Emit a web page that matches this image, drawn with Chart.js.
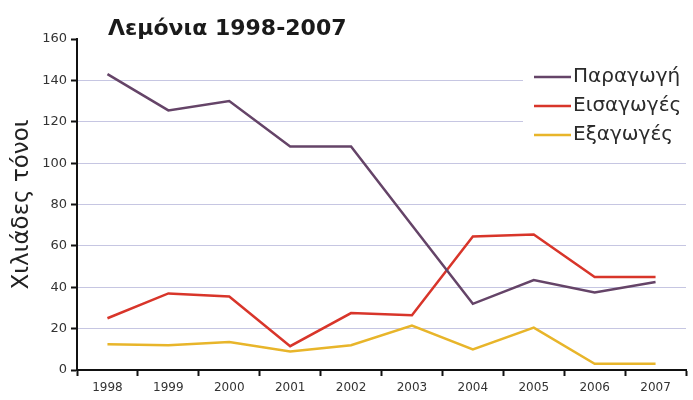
<!DOCTYPE html>
<html lang="el">
  <head>
    <meta charset="UTF-8" />
    <title>Λεμόνια 1998-2007</title>
    <script src="https://cdn.jsdelivr.net/npm/chart.js"></script>
    <style>
      html,
      body {
        margin: 0;
        padding: 0;
        background: #fff;
      }
      .chart-box {
        width: 693px;
        height: 400px;
      }
    </style>
  </head>
  <body>
    <div class="chart-box">
      <canvas id="myChart"></canvas>
    </div>
    <script>
      const years = ["1998", "1999", "2000", "2001", "2002", "2003", "2004", "2005", "2006", "2007"];
      const paragogi = [143, 125.5, 130, 108, 108, 70, 32, 43.5, 37.5, 42.5]; // παραγωγή
      const eisagoges = [25, 37, 35.5, 11.5, 27.5, 26.5, 64.5, 65.5, 45, 45]; // εισαγωγές
      const exagoges = [12.5, 12, 13.5, 9, 12, 21.5, 10, 20.5, 3, 3]; // εξαγωγές
      const yTicks = [0, 20, 40, 60, 80, 100, 120, 140, 160];

      const FONT = "'DejaVu Sans', 'Liberation Sans', Arial, sans-serif";

      // τίτλος πάνω αριστερά
      const titlePlugin = {
        id: "titleText",
        afterDraw(chart) {
          const c = chart.ctx;
          c.save();
          c.font = "bold 22px " + FONT;
          c.fillStyle = "#1a1a1a";
          c.textBaseline = "middle";
          c.fillText("Λεμόνια 1998-2007", 108, 29);
          c.restore();
        },
      };

      // υπόμνημα μέσα στο γράφημα, πάνω δεξιά, με λευκό φόντο
      const legendPlugin = {
        id: "boxLegend",
        beforeDatasetsDraw(chart) {
          const c = chart.ctx;
          c.save();
          c.fillStyle = "#fff";
          c.fillRect(523, 58, 170, 92);
          c.restore();
        },
        afterDraw(chart) {
          const c = chart.ctx;
          c.save();
          c.font = "20px " + FONT;
          c.textBaseline = "middle";
          chart.data.datasets.forEach(function (ds, i) {
            const y = 77 + i * 29;
            c.strokeStyle = ds.borderColor;
            c.lineWidth = 2.5;
            c.beginPath();
            c.moveTo(534, y);
            c.lineTo(571, y);
            c.stroke();
            c.fillStyle = "#2a2a2a";
            c.fillText(ds.label, 573, y);
          });
          c.restore();
        },
      };

      const ctx = document.getElementById("myChart");
      const myChart = new Chart(ctx, {
        type: "line",
        data: {
          labels: years,
          datasets: [
            { label: "Παραγωγή", data: paragogi, borderColor: "#654468" },
            { label: "Εισαγωγές", data: eisagoges, borderColor: "#d8352a" },
            { label: "Εξαγωγές", data: exagoges, borderColor: "#e8b52a" },
          ],
        },
        options: {
          responsive: true,
          maintainAspectRatio: false,
          animation: false,
          layout: { padding: { top: 39, right: 7, left: 0, bottom: 0 } },
          elements: {
            line: { borderWidth: 2.5, tension: 0 },
            point: { radius: 0 },
          },
          plugins: {
            legend: { display: false },
            tooltip: { enabled: false },
          },
          scales: {
            x: {
              offset: true,
              border: { color: "#111", width: 2 },
              grid: {
                offset: true,
                drawOnChartArea: false,
                drawTicks: true,
                tickLength: 6,
                tickColor: "#111",
                tickWidth: 2,
              },
              ticks: {
                padding: 5,
                color: "#333",
                font: { family: FONT, size: 12 },
                maxRotation: 0,
              },
              afterFit(scale) {
                scale.height = 30;
              },
            },
            y: {
              min: 0,
              max: 160,
              afterBuildTicks(scale) {
                scale.ticks = yTicks.map(function (v) {
                  return { value: v };
                });
              },
              border: { color: "#111", width: 2 },
              grid: {
                color(c) {
                  return c.tick && (c.tick.value === 0 || c.tick.value === 160) ? "rgba(0,0,0,0)" : "#c6c6e2";
                },
                lineWidth: 1,
                tickLength: 6,
                tickColor: "#111",
                tickWidth: 2,
              },
              ticks: {
                padding: 4,
                color: "#333",
                font: { family: FONT, size: 13 },
              },
              title: {
                display: true,
                text: "Χιλιάδες τόνοι",
                color: "#222",
                font: { family: FONT, size: 23 },
                padding: { top: 8, bottom: 0 },
              },
              afterFit(scale) {
                scale.width = 77;
              },
            },
          },
        },
        plugins: [titlePlugin, legendPlugin],
      });
    </script>
  </body>
</html>
